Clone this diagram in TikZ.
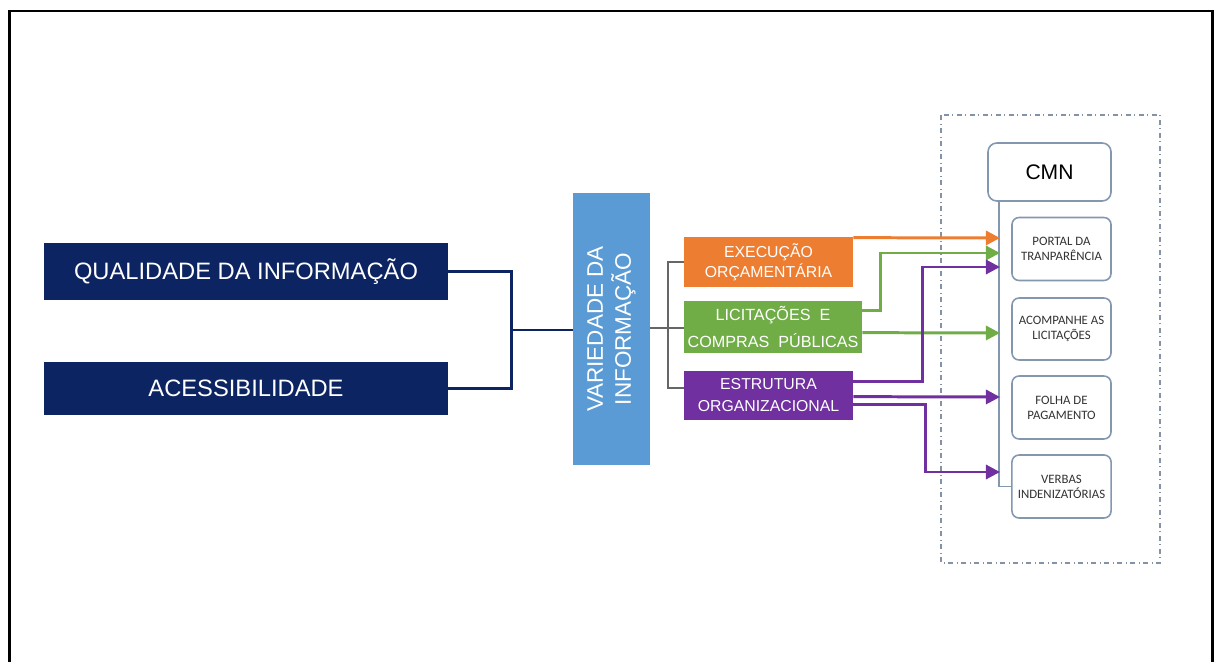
\documentclass[tikz,border=0pt]{standalone}
\usepackage{fontspec}
\setmainfont{Liberation Sans}
\newfontfamily\calibri{Carlito}
\usetikzlibrary{arrows.meta}
\definecolor{navy}{RGB}{12,36,97}
\definecolor{varblue}{RGB}{91,155,213}
\definecolor{orc}{RGB}{237,125,49}
\definecolor{grn}{RGB}{112,173,71}
\definecolor{prp}{RGB}{112,48,160}
\definecolor{cmnline}{RGB}{132,151,176}

\begin{document}
\begin{tikzpicture}[x=0.02cm,y=-0.02cm,
    bigbox/.style={fill=navy,text=white,minimum width=8.08cm,font=\fontsize{13.5}{15}\selectfont},
    catbox/.style={text=white,align=center,minimum width=3.38cm,inner sep=1pt},
    leaf/.style={draw=cmnline,line width=0.9pt,rounded corners=4pt,fill=white,minimum width=1.98cm,
      minimum height=1.26cm,align=center,text=black!80,font=\calibri\fontsize{7.3}{8.6}\selectfont},
    flow/.style={line width=1.7pt,-{Triangle[length=8pt,width=8pt]}},
    brk/.style={draw=black!60,line width=0.8pt}]
  \useasboundingbox (0,0) rectangle (1216,662);
  \draw[line width=1.7pt] (9.5,662) -- (9.5,11) -- (1212,11) -- (1212,662);

  \node[bigbox,minimum height=1.14cm] (qual) at (246,271.5) {QUALIDADE DA INFORMAÇÃO};
  \node[bigbox,minimum height=1.06cm] (acess) at (246,388.5) {ACESSIBILIDADE};
  \node[fill=varblue,text=white,rotate=90,minimum width=5.44cm,minimum height=1.54cm,align=center,
    font=\fontsize{12.8}{16}\selectfont] (var) at (611.5,329) {VARIEDADE DA\\INFORMAÇÃO};

  \node[catbox,fill=orc,minimum height=1cm,font=\fontsize{9}{11.3}\selectfont] (exec) at (768.5,262)
    {EXECUÇÃO\\ORÇAMENTÁRIA};
  \node[catbox,fill=grn,minimum width=3.56cm,minimum height=1.04cm,font=\fontsize{9.2}{15.5}\selectfont]
    (licit) at (773,327) {LICITAÇÕES\ \ E\\COMPRAS\ \ PÚBLICAS};
  \node[catbox,fill=prp,minimum height=0.98cm,font=\fontsize{9}{12.5}\selectfont] (estr) at (768.5,395.5)
    {ESTRUTURA\\ORGANIZACIONAL};

  \coordinate (jn) at (511,330);
  \draw[navy,line width=1.7pt] (qual.east) -| (jn) |- (acess.east);
  \draw[navy,line width=1.7pt] (jn) -- (var.north |- jn);

  \coordinate (bk) at (668,328);
  \draw[brk] (var.south |- bk) -- (bk) -- (licit.west |- bk);
  \draw[brk] (exec.west) -| (bk) |- ([yshift=0.15cm]estr.west);

  \draw[cmnline!80!gray,dash dot,line width=0.6pt] (941,115) rectangle (1160,563);

  \node[draw=cmnline,line width=0.9pt,rounded corners=5pt,fill=white,minimum width=2.46cm,minimum height=1.16cm,
    font=\fontsize{12}{14}\selectfont] (cmn) at (1049.5,172) {CMN};
  \node[leaf] (portal) at (1061.5,249) {PORTAL DA\\TRANPARÊNCIA};
  \node[leaf,minimum height=1.24cm] (acomp) at (1061.5,329) {ACOMPANHE AS\\LICITAÇÕES};
  \node[leaf] (folha) at (1061.5,407.5) {FOLHA DE\\PAGAMENTO};
  \node[leaf] (verbas) at (1061.5,486.5) {VERBAS\\INDENIZATÓRIAS};

  \coordinate (trunk) at ([xshift=0.24cm]cmn.south west);
  \draw[cmnline,line width=0.9pt] (trunk) |- (verbas.west);

  \coordinate (pA) at (1000,238);
  \coordinate (pB) at (1000,253);
  \coordinate (pC) at (1000,267);
  \coordinate (aA) at (1000,333);
  \coordinate (fA) at (1000,397);
  \coordinate (vA) at (1000,472);

  \draw[flow,orc] ([yshift=-0.02cm]exec.north east) -- (pA);
  \draw[flow,grn] ([yshift=-0.2cm]licit.north east) -| (880,253) -- (pB);
  \draw[flow,grn] ([yshift=-0.64cm]licit.north east) -- (aA);
  \draw[flow,prp] ([yshift=-0.22cm]estr.north east) -| (922,267) -- (pC);
  \draw[flow,prp] ([yshift=-0.52cm]estr.north east) -- (fA);
  \draw[flow,prp] ([yshift=-0.68cm]estr.north east) -| (925,472) -- (vA);
\end{tikzpicture}
\end{document}
